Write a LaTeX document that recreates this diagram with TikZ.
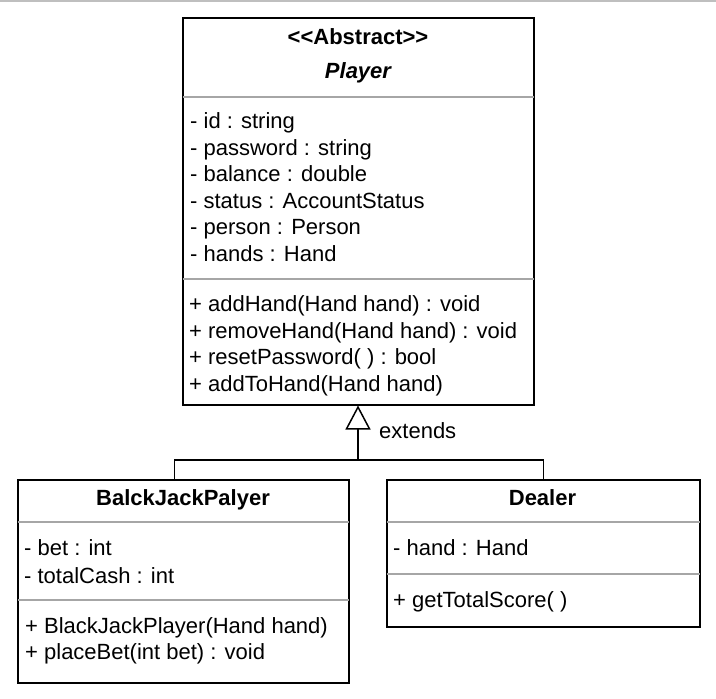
\documentclass[tikz,border=0pt]{standalone}
\usepackage{fontspec}
\setmainfont{Liberation Sans}
\usepackage{tikz}
\usetikzlibrary{positioning,calc,arrows.meta}

\begin{document}
\begin{tikzpicture}[x=1pt, y=-1pt,
    umlbox/.style={rectangle, draw, line width=1.5pt, anchor=north west, inner sep=0pt},
    attr/.style={anchor=base west, inner sep=0pt, font=\fontsize{22}{26}\selectfont},
    title/.style={anchor=base, inner sep=0pt, font=\fontsize{22}{26}\selectfont\bfseries},
    sep/.style={draw=black!35, line width=1.5pt, shorten <=0.75pt, shorten >=0.75pt},
    arrow/.style={-{Triangle[open, length=24pt, width=25pt]}, line width=1.5pt}
]
    \useasboundingbox (0,0) rectangle (716,699);
    \draw[black!25, line width=1.5pt] (0,0.75) -- (716,0.75);

    % abstract class
    \node[umlbox, minimum width=351pt, minimum height=387pt] (player) at (182,17) {};
    \node[title] (stereo) at (358,44.5) {<{}<Abstract>{}>};
    \node[title, font=\fontsize{22}{26}\selectfont\bfseries\itshape] (pname) at (358,78) {Player};
    \draw[sep] (player.west |- 0,97) -- (player.east |- 0,97);
    \node[attr] (pid) at (190,128.5) {- id : string};
    \node[attr] (ppass) at (190,155) {- password : string};
    \node[attr] (pbal) at (190,181.5) {- balance : double};
    \node[attr] (pstat) at (190,208) {- status : AccountStatus};
    \node[attr] (pperson) at (190,234.5) {- person : Person};
    \node[attr] (phands) at (190,261) {- hands : Hand};
    \draw[sep] (player.west |- 0,279) -- (player.east |- 0,279);
    \node[attr] (padd) at (189,311.5) {+ addHand(Hand hand) : void};
    \node[attr] (premove) at (189,338) {+ removeHand(Hand hand) : void};
    \node[attr] (preset) at (189,364.5) {+ resetPassword( ) : bool};
    \node[attr] (paddto) at (189,391) {+ addToHand(Hand hand)};

    % subclasses
    \node[umlbox, minimum width=331pt, minimum height=203pt] (bjp) at (17,479) {};
    \node[title] (bjpname) at (183,505) {BalckJackPalyer};
    \draw[sep] (bjp.west |- 0,522) -- (bjp.east |- 0,522);
    \node[attr] (bbet) at (24,555) {- bet : int};
    \node[attr] (bcash) at (24,583) {- totalCash : int};
    \draw[sep] (bjp.west |- 0,600) -- (bjp.east |- 0,600);
    \node[attr] (bctor) at (25,633) {+ BlackJackPlayer(Hand hand)};
    \node[attr] (bplace) at (25,659.5) {+ placeBet(int bet) : void};

    \node[umlbox, minimum width=313pt, minimum height=147pt] (dealer) at (386,479) {};
    \node[title] (dname) at (542.5,505) {Dealer};
    \draw[sep] (dealer.west |- 0,522) -- (dealer.east |- 0,522);
    \node[attr] (dhand) at (393,555) {- hand : Hand};
    \draw[sep] (dealer.west |- 0,574) -- (dealer.east |- 0,574);
    \node[attr] (dscore) at (393,607) {+ getTotalScore( )};

    % generalisation
    \coordinate (joint) at (358,460);
    \draw[line width=1.5pt] ([xshift=-9pt]bjp.north) |- (joint) -| (dealer.north);
    \draw[arrow] (joint) -- (joint |- player.south);
    \node[attr] (ext) at (379,438) {extends};
\end{tikzpicture}
\end{document}
